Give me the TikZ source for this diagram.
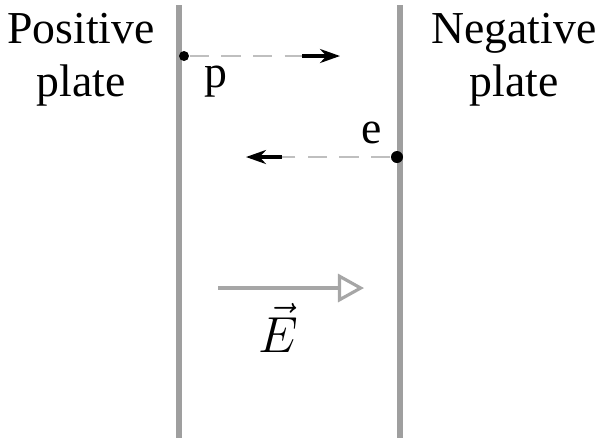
\documentclass[tikz,border=0pt]{standalone}
\usepackage{amsmath,amssymb}
\usepackage{xcolor}
\usepackage{fontspec}
\setmainfont{Liberation Serif}
\usepackage{tikz}
\usetikzlibrary{arrows.meta,positioning,calc}

\begin{document}
\begin{tikzpicture}[x=0.01cm, y=-0.01cm,
  plate/.style={draw=gray!75, line width=1.7pt},
  label/.style={align=center, font=\fontsize{13}{15}\selectfont, inner sep=0pt},
  charge/.style={circle, fill=black, inner sep=0pt, minimum size=0.1cm},
  trail/.style={draw=gray!50, line width=0.8pt, dash pattern=on 5.5pt off 3.5pt},
  tip/.style={draw, -{Stealth[length=2mm,width=1.4mm]}, line width=0.9pt},
  field/.style={draw=gray!70, line width=0.9pt, -{Triangle[open, length=0.26cm, width=0.28cm]}}]

  \useasboundingbox (0,0) rectangle (601,438);

  % plates
  \coordinate (ptop) at (179,5);
  \coordinate (pbot) at (179,438);
  \coordinate (ntop) at (400,5);
  \coordinate (nbot) at (400,438);
  \path [plate] (ptop) -- (pbot);
  \path [plate] (ntop) -- (nbot);

  \node [label] (pos) at (81,60) {Positive\\plate};
  \node [label] (neg) at (514,60) {Negative\\plate};

  % charges
  \node [charge] (p) at (184,56) {};
  \node [label] (plab) at (216,82) {p};
  \node [charge, minimum size=0.12cm] (e) at (397,157) {};
  \node [label] (elab) at (372,133) {e};

  \coordinate (p1) at (302,56);
  \coordinate (p2) at (340,56);
  \path [trail] (p) -- (p1);
  \path [tip] (p1) -- (p2);

  \coordinate (e1) at (282,157);
  \coordinate (e2) at (246,157);
  \path [trail] (e) -- (e1);
  \path [tip] (e1) -- (e2);

  % field
  \coordinate (f1) at (218,288);
  \coordinate (f2) at (364,288);
  \path [field] (f1) -- (f2);
  \node [font=\fontsize{14}{16}\selectfont] (Elab) at (278,328) {$\vec{E}$};
\end{tikzpicture}
\end{document}
